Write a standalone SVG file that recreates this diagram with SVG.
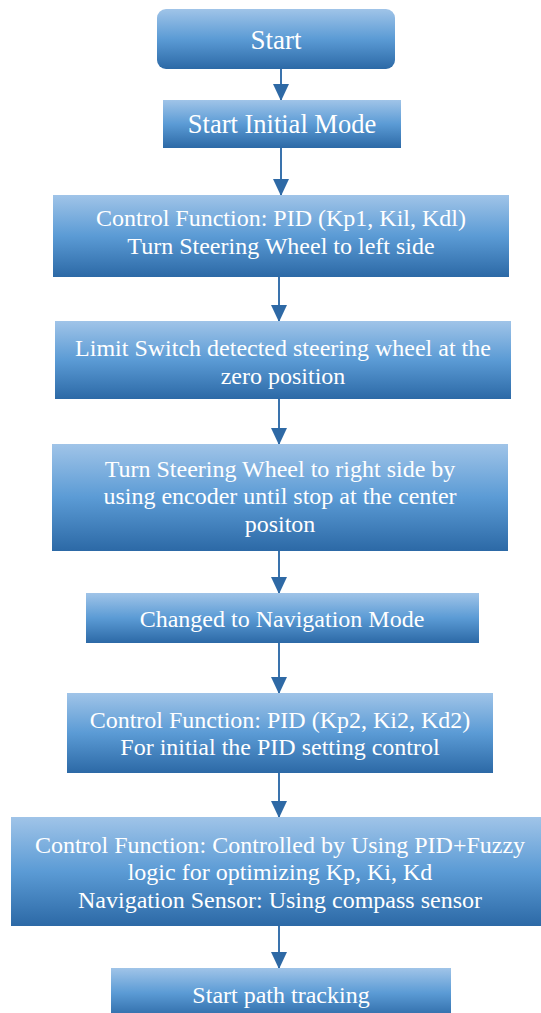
<svg xmlns="http://www.w3.org/2000/svg" width="541" height="1013" viewBox="0 0 541 1013">
<defs>
<linearGradient id="g" x1="0" y1="0" x2="0" y2="1">
<stop offset="0" stop-color="#a0c4e8"/>
<stop offset="0.5" stop-color="#5b9bd5"/>
<stop offset="1" stop-color="#2c69a6"/>
</linearGradient>
<marker id="ah" markerWidth="16" markerHeight="17" refX="16" refY="8" orient="auto" markerUnits="userSpaceOnUse">
<path d="M0,0 L17,8 L0,16 Z" fill="#2e69a5"/>
</marker>
<style>
.b{fill:url(#g);}
.c{stroke:#3a73ad;stroke-width:2;fill:none;marker-end:url(#ah);}
</style>
</defs>
<rect width="541" height="1013" fill="#ffffff"/>
<g id="connectors">
<line class="c" x1="281" y1="69" x2="281" y2="100"/>
<line class="c" x1="281" y1="148" x2="281" y2="195"/>
<line class="c" x1="279" y1="277" x2="279" y2="321"/>
<line class="c" x1="279" y1="399" x2="279" y2="444"/>
<line class="c" x1="279" y1="551" x2="279" y2="593"/>
<line class="c" x1="279" y1="643" x2="279" y2="693"/>
<line class="c" x1="279" y1="773" x2="279" y2="817"/>
<line class="c" x1="279" y1="926" x2="279" y2="968"/>
</g>
<g font-family="Liberation Serif, Times New Roman, serif" font-size="24" fill="#ffffff" text-anchor="middle">
<g id="n1"><rect class="b" x="157" y="9" width="238" height="60" rx="9"/><text x="276" y="49" font-size="27">Start</text></g>
<g id="n2"><rect class="b" x="163" y="100" width="238" height="48"/><text x="282" y="133" font-size="26.5">Start Initial Mode</text></g>
<g id="n3"><rect class="b" x="53" y="195" width="456" height="82"/><text x="281" y="226">Control Function: PID (Kp1, Kil, Kdl)</text><text x="281" y="254">Turn Steering Wheel to left side</text></g>
<g id="n4"><rect class="b" x="55" y="321" width="456" height="78"/><text x="283" y="356">Limit Switch detected steering wheel at the</text><text x="283" y="384">zero position</text></g>
<g id="n5"><rect class="b" x="52" y="444" width="456" height="107"/><text x="280" y="477">Turn Steering Wheel to right side by</text><text x="280" y="504">using encoder until stop at the center</text><text x="280" y="532">positon</text></g>
<g id="n6"><rect class="b" x="86" y="593" width="393" height="50"/><text x="282" y="627">Changed to Navigation Mode</text></g>
<g id="n7"><rect class="b" x="67" y="693" width="426" height="80"/><text x="280" y="728">Control Function: PID (Kp2, Ki2, Kd2)</text><text x="280" y="755">For initial the PID setting control</text></g>
<g id="n8"><rect class="b" x="11" y="817" width="530" height="109"/><text x="280" y="853">Control Function: Controlled by Using PID+Fuzzy</text><text x="280" y="880">logic for optimizing Kp, Ki, Kd</text><text x="280" y="908">Navigation Sensor: Using compass sensor</text></g>
<g id="n9"><rect class="b" x="111" y="968" width="340" height="50"/><text x="281" y="1003">Start path tracking</text></g>
</g>
</svg>
